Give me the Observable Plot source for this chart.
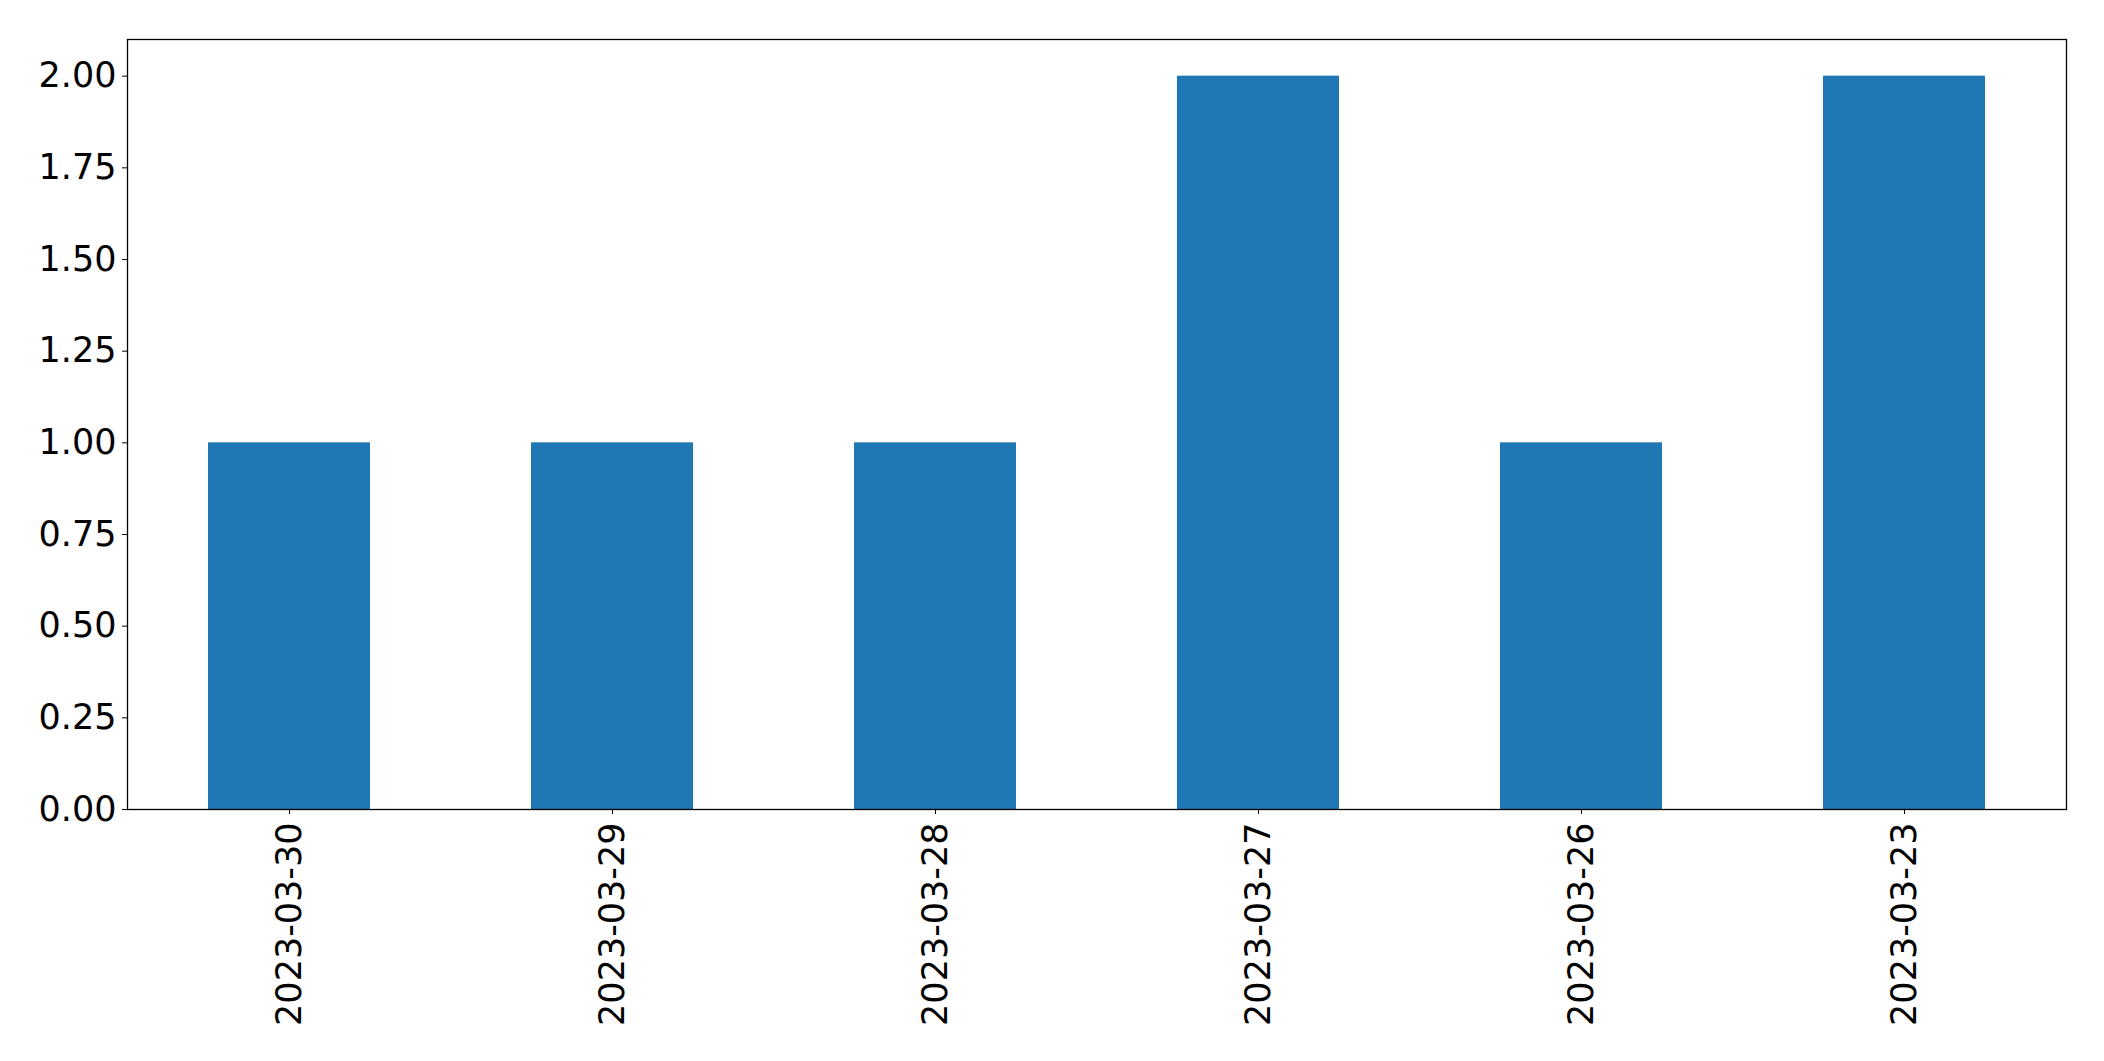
<!DOCTYPE html>
<html>
<head>
<meta charset="utf-8">
<script src="https://cdn.jsdelivr.net/npm/d3@7"></script>
<script src="https://cdn.jsdelivr.net/npm/@observablehq/plot@0.6"></script>
<style>
  html, body { margin: 0; padding: 0; background: #fff; }
  svg { display: block; }
</style>
</head>
<body>
<div id="chart"></div>
<script>
const dates = ["2023-03-30", "2023-03-29", "2023-03-28", "2023-03-27", "2023-03-26", "2023-03-23"];
const counts = [1, 1, 1, 2, 1, 2];
const yTicks = [0, 0.25, 0.5, 0.75, 1.0, 1.25, 1.5, 1.75, 2.0];

const data = dates.map((d, i) => ({date: d, count: counts[i]}));

const chart = Plot.plot({
  width: 2104,
  height: 1061,
  marginLeft: 127,
  marginTop: 39,
  marginRight: 38,
  marginBottom: 252,
  style: {fontFamily: "DejaVu Sans", fontSize: "35px", color: "black", background: "white"},
  x: {domain: dates, paddingInner: 0.5, paddingOuter: 0.25, label: null},
  y: {domain: [0, 2.1], label: null},
  marks: [
    Plot.barY(data, {x: "date", y: "count", fill: "#1f77b4"}),
    Plot.axisY({ticks: yTicks, tickFormat: d3.format(".2f"), tickSize: 5, tickPadding: 6, label: null}),
    Plot.axisX({tickRotate: -90, tickSize: 5, tickPadding: 8, label: null}),
    Plot.frame({stroke: "black", strokeWidth: 1.3})
  ]
});
document.getElementById("chart").appendChild(chart);
</script>
</body>
</html>
